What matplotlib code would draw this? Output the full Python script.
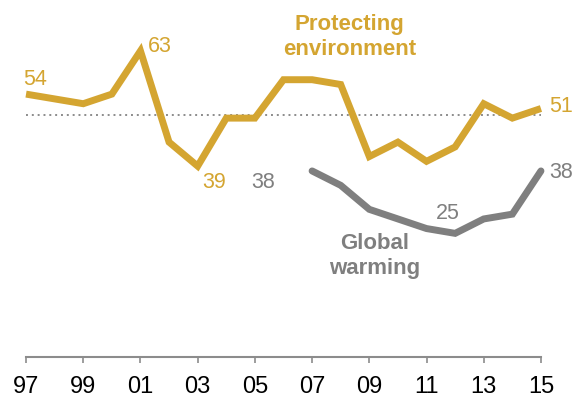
import matplotlib.pyplot as plt

plt.rcParams['font.family'] = ['Liberation Sans', 'DejaVu Sans']
narrow = ['Liberation Sans Narrow', 'Liberation Sans', 'DejaVu Sans']

# Share saying each is a top priority (%)
env_years = [1997, 1999, 2000, 2001, 2002, 2003, 2004, 2005, 2006, 2007,
             2008, 2009, 2010, 2011, 2012, 2013, 2014, 2015]
env_values = [54, 52, 54, 63, 44, 39, 49, 49, 57, 57,
              56, 41, 44, 40, 43, 52, 49, 51]

gw_years = [2007, 2008, 2009, 2010, 2011, 2012, 2013, 2014, 2015]
gw_values = [38, 35, 30, 28, 26, 25, 28, 29, 38]

tick_years = [1997, 1999, 2001, 2003, 2005, 2007, 2009, 2011, 2013, 2015]
tick_labels = ['97', '99', '01', '03', '05', '07', '09', '11', '13', '15']

gold = '#D4A531'
gray = '#7F7F7F'

fig = plt.figure(figsize=(5.85, 3.97), dpi=100)
ax = fig.add_axes([0, 40 / 397, 1, 357 / 397])
ax.set_xlim(1996.09, 2016.54)
ax.set_ylim(-0.75, 73.6)

# reference line at 50
ax.plot([1997, 2015], [49.6, 49.6], color='#8C8C8C', lw=1.4, ls=(0, (1, 2)), zorder=1)

ax.plot(env_years, env_values, color=gold, lw=5, solid_joinstyle='miter',
        solid_capstyle='butt', zorder=3)
ax.plot(gw_years, gw_values, color=gray, lw=5, solid_joinstyle='miter',
        solid_capstyle='round', zorder=3)

vfs = 15.5
ax.text(1996.9, 57, '54', color=gold, fontsize=vfs, ha='left', va='center')
ax.text(2001.26, 64, '63', color=gold, fontsize=vfs, ha='left', va='center')
ax.text(2003.15, 35.5, '39', color=gold, fontsize=vfs, ha='left', va='center')
ax.text(2015.3, 51.5, '51', color=gold, fontsize=vfs, ha='left', va='center')
ax.text(2005.7, 35.5, '38', color=gray, fontsize=vfs, ha='right', va='center')
ax.text(2011.75, 29.2, '25', color=gray, fontsize=vfs, ha='center', va='center')
ax.text(2015.3, 37.7, '38', color=gray, fontsize=vfs, ha='left', va='center')

ax.text(2008.32, 65.9, 'Protecting\nenvironment', color=gold, fontsize=16,
        fontweight='bold', family=narrow, ha='center', va='center', linespacing=1.2)
ax.text(2009.2, 20.3, 'Global\nwarming', color=gray, fontsize=16,
        fontweight='bold', family=narrow, ha='center', va='center', linespacing=1.2)

for side in ['top', 'right', 'left']:
    ax.spines[side].set_visible(False)
ax.spines['bottom'].set_color('#8C8C8C')
ax.spines['bottom'].set_linewidth(1.5)
ax.spines['bottom'].set_bounds(1997, 2015)
ax.set_yticks([])
ax.set_xticks(tick_years)
ax.set_xticklabels(tick_labels)
ax.tick_params(axis='x', length=4.5, width=1.2, color='#8C8C8C',
               labelsize=17, labelcolor='black', pad=9)

fig.savefig('out.png', dpi=100)
